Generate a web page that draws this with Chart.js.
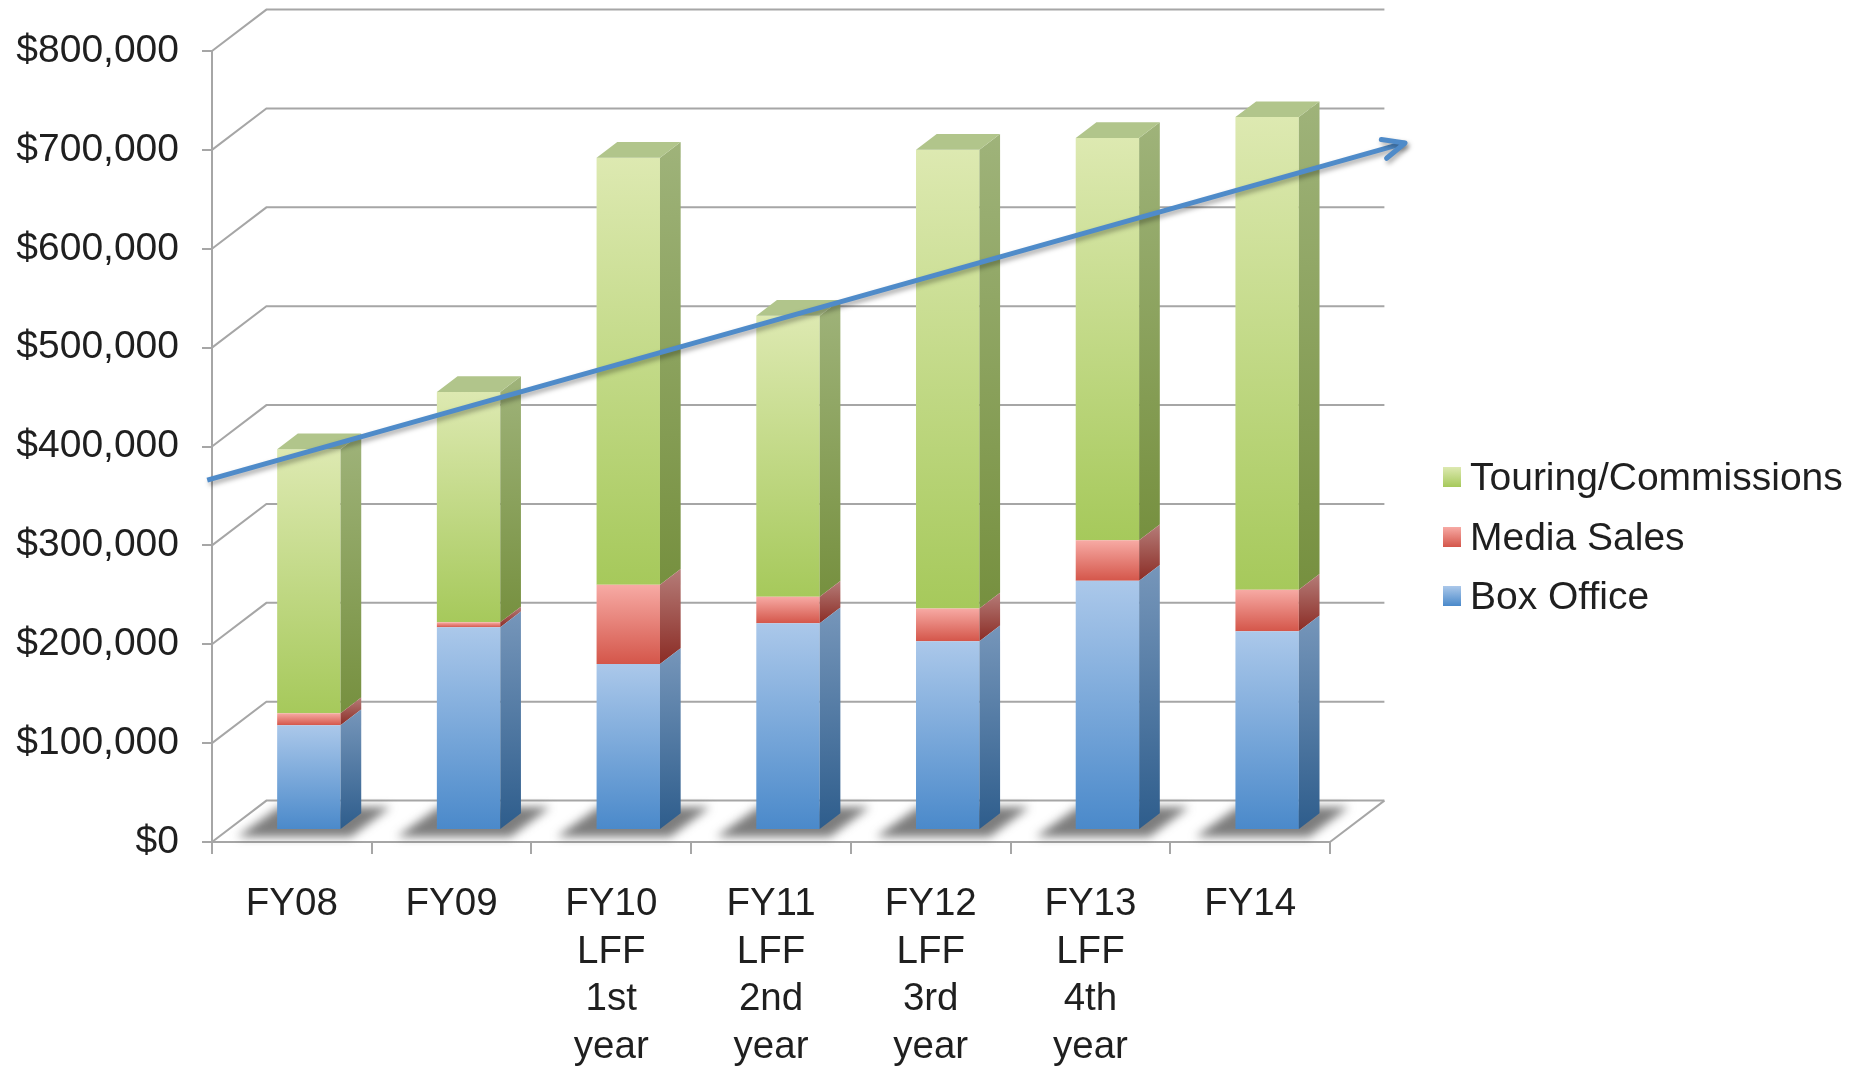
<!DOCTYPE html>
<html>
<head>
<meta charset="utf-8">
<script src="https://cdn.jsdelivr.net/npm/chart.js@4.4.1/dist/chart.umd.min.js"></script>
<style>
  html, body { margin: 0; padding: 0; background: #ffffff; }
  #wrap { position: relative; width: 1870px; height: 1066px; }
  #legend { position: absolute; left: 1443px; top: 0; width: 427px; height: 1066px;
            font-family: 'Liberation Sans', Arial, Helvetica, sans-serif; font-size: 39px; color: #1f1f1f; }
  #legend .li { position: absolute; left: 0; height: 40px; display: flex; align-items: center; white-space: nowrap; }
  #legend .sw { width: 18px; height: 20px; margin-right: 9px; flex: none; }
</style>
</head>
<body>
<div id="wrap"><canvas id="c"></canvas><div id="legend"></div></div>
<script>
// ---------------- data ----------------
const categories = [
  ['FY08'],
  ['FY09'],
  ['FY10', 'LFF', '1st', 'year'],
  ['FY11', 'LFF', '2nd', 'year'],
  ['FY12', 'LFF', '3rd', 'year'],
  ['FY13', 'LFF', '4th', 'year'],
  ['FY14']
];
const seriesNames = ['Box Office', 'Media Sales', 'Touring/Commissions'];
const boxOffice  = [106000, 205000, 168000, 209000, 191000, 252000, 201000];
const mediaSales = [ 12000,   5000,  80000,  27000,  33000,  41000,  42000];
const touring    = [267000, 233000, 432000, 284000, 464000, 407000, 478000];
// trend arrow: start / end in category-index units and dollar values
const trendX = [-0.53, 6.97];
const trendY = [366000, 707000];
const yMax = 800000;
const yStep = 100000;

// ---------------- styling ----------------
const FONT = "'Liberation Sans', Arial, Helvetica, sans-serif";
const TEXT = '#1f1f1f';
const GRID = '#a6a6a6';
const DEPTH = { x: 54.4, y: -41.4 };      // back-wall offset of the 3D box
const BAR_SHIFT = { x: 17, y: -12 };      // bars stand a little behind the front plane
const BAR_DEPTH = 0.38;                   // bar depth as fraction of the box depth
const TREND_COLOR = '#4f8bc9';

const seriesList = [boxOffice, mediaSales, touring];
const frontColors = [['#abc8ea', '#4a89ca'], ['#f7aaa4', '#d4564a'], ['#dde9b1', '#a6c95b']];
const sideColors  = [['#7696ba', '#2e5d8c'], ['#b57c78', '#8b2c25'], ['#9fb37a', '#76903f']];
const topColor = '#b1c58b';
const legendColors = ['#6b9fd8', '#e2736a', '#bcd67c'];

function frontFill(k) {
  return (c) => {
    if (c.type !== 'data' || !c.chart.chartArea) return legendColors[k];
    const y = c.chart.scales.y;
    const i = c.dataIndex;
    let s = 0;
    for (let j = 0; j < k; j++) s += seriesList[j][i];
    const top = y.getPixelForValue(s + seriesList[k][i]);
    const bot = y.getPixelForValue(s);
    const g = c.chart.ctx.createLinearGradient(0, top, 0, bot);
    g.addColorStop(0, frontColors[k][0]);
    g.addColorStop(1, frontColors[k][1]);
    return g;
  };
}

const threeD = {
  id: 'threeD',
  beforeDatasetsDraw(chart) {
    const { ctx, chartArea: a, scales: { y } } = chart;
    ctx.save();
    ctx.strokeStyle = GRID;
    ctx.lineWidth = 2;
    y.ticks.forEach(t => {
      const py = y.getPixelForValue(t.value);
      ctx.beginPath();
      ctx.moveTo(a.left, py);
      ctx.lineTo(a.left + DEPTH.x, py + DEPTH.y);
      ctx.lineTo(a.right + DEPTH.x, py + DEPTH.y);
      ctx.stroke();
    });
    const p0 = y.getPixelForValue(0);
    ctx.beginPath();
    ctx.moveTo(a.right, p0);
    ctx.lineTo(a.right + DEPTH.x, p0 + DEPTH.y);
    ctx.stroke();
    // floor shadows
    const meta = chart.getDatasetMeta(0);
    ctx.filter = 'blur(5px)';
    ctx.fillStyle = 'rgba(70,70,70,0.7)';
    meta.data.forEach(el => {
      const w = el.width;
      const bx = el.x - w / 2 + BAR_SHIFT.x;
      const by = el.base + BAR_SHIFT.y;
      ctx.beginPath();
      ctx.moveTo(bx - 40, by + 8);
      ctx.lineTo(bx + w + 10, by + 8);
      ctx.lineTo(bx + w + 50, by - 22);
      ctx.lineTo(bx + 2, by - 22);
      ctx.closePath();
      ctx.fill();
    });
    ctx.restore();
  },
  beforeDatasetDraw(chart, args) {
    const ctx = chart.ctx;
    const ds = chart.data.datasets[args.index];
    ctx.save();
    if (ds.type === 'line') {
      ctx.shadowColor = 'rgba(0,0,0,0.35)';
      ctx.shadowBlur = 5;
      ctx.shadowOffsetX = 2;
      ctx.shadowOffsetY = 3;
    } else {
      ctx.translate(BAR_SHIFT.x, BAR_SHIFT.y);
    }
  },
  afterDatasetDraw(chart, args) {
    const ctx = chart.ctx;
    const ds = chart.data.datasets[args.index];
    if (ds.type !== 'line') {
      const k = ds.seriesIndex;
      const dx = DEPTH.x * BAR_DEPTH, dy = DEPTH.y * BAR_DEPTH;
      args.meta.data.forEach(el => {
        const w = el.width;
        const l = el.x - w / 2, r = el.x + w / 2;
        const top = Math.min(el.y, el.base), bot = Math.max(el.y, el.base);
        if (bot - top < 0.01) return;
        const g = ctx.createLinearGradient(0, top + dy, 0, bot);
        g.addColorStop(0, sideColors[k][0]);
        g.addColorStop(1, sideColors[k][1]);
        ctx.fillStyle = g;
        ctx.beginPath();
        ctx.moveTo(r, top);
        ctx.lineTo(r + dx, top + dy);
        ctx.lineTo(r + dx, bot + dy);
        ctx.lineTo(r, bot);
        ctx.closePath();
        ctx.fill();
        if (k === seriesList.length - 1) {
          ctx.fillStyle = topColor;
          ctx.beginPath();
          ctx.moveTo(l, top);
          ctx.lineTo(l + dx, top + dy);
          ctx.lineTo(r + dx, top + dy);
          ctx.lineTo(r, top);
          ctx.closePath();
          ctx.fill();
        }
      });
    }
    ctx.restore();
  },
  afterDatasetsDraw(chart) {
    const ctx = chart.ctx;
    const meta = chart.getDatasetMeta(3);
    const p0 = meta.data[0], p1 = meta.data[meta.data.length - 1];
    const ang = Math.atan2(p1.y - p0.y, p1.x - p0.x);
    const L = 24, A = 24 * Math.PI / 180;
    ctx.save();
    ctx.shadowColor = 'rgba(0,0,0,0.35)';
    ctx.shadowBlur = 5;
    ctx.shadowOffsetX = 2;
    ctx.shadowOffsetY = 3;
    ctx.strokeStyle = TREND_COLOR;
    ctx.lineWidth = 5;
    ctx.lineCap = 'round';
    ctx.lineJoin = 'round';
    ctx.beginPath();
    ctx.moveTo(p1.x - L * Math.cos(ang - A), p1.y - L * Math.sin(ang - A));
    ctx.lineTo(p1.x, p1.y);
    ctx.lineTo(p1.x - L * Math.cos(ang + A), p1.y - L * Math.sin(ang + A));
    ctx.stroke();
    ctx.restore();
  }
};

const barDataset = (k) => ({
  type: 'bar',
  label: seriesNames[k],
  seriesIndex: k,
  data: seriesList[k],
  backgroundColor: frontFill(k),
  borderWidth: 0,
  grouped: false,
  categoryPercentage: 1.0,
  barPercentage: 0.397,
  xAxisID: 'x',
  yAxisID: 'y',
  stack: 'rev',
  clip: false
});

const chart = new Chart(document.getElementById('c'), {
  type: 'bar',
  data: {
    labels: categories,
    datasets: [
      barDataset(0),
      barDataset(1),
      barDataset(2),
      {
        type: 'line',
        label: 'Trend',
        data: trendX.map((x, i) => ({ x: x, y: trendY[i] })),
        xAxisID: 'xTrend',
        yAxisID: 'y',
        stack: 'trend',
        borderColor: TREND_COLOR,
        borderWidth: 5,
        pointRadius: 0,
        tension: 0,
        fill: false,
        clip: false,
        order: -1
      }
    ]
  },
  options: {
    responsive: true,
    maintainAspectRatio: false,
    animation: false,
    devicePixelRatio: 1,
    layout: { padding: { top: 51, left: 0, right: 540, bottom: 0 } },
    scales: {
      x: {
        type: 'category',
        stacked: true,
        offset: true,
        grid: { display: true, drawOnChartArea: false, offset: true, tickLength: 12, color: GRID, lineWidth: 2 },
        border: { display: true, color: GRID, width: 2 },
        ticks: {
          color: TEXT,
          padding: 27,
          maxRotation: 0,
          autoSkip: false,
          font: { family: FONT, size: 38.5, lineHeight: 1.235 }
        },
        afterFit: (s) => { s.height = 224; }
      },
      xTrend: {
        type: 'linear',
        display: false,
        offset: false,
        grid: { offset: false },
        min: -0.5,
        max: categories.length - 0.5
      },
      y: {
        type: 'linear',
        stacked: true,
        min: 0,
        max: yMax,
        grid: { display: true, drawOnChartArea: false, tickLength: 10, color: GRID, lineWidth: 2 },
        border: { display: true, color: GRID, width: 2 },
        ticks: {
          stepSize: yStep,
          color: TEXT,
          padding: 23,
          font: { family: FONT, size: 39 },
          callback: (v) => '$' + Number(v).toLocaleString('en-US')
        },
        afterFit: (s) => { s.width = 212; }
      }
    },
    plugins: {
      legend: {
        display: false,
        reverse: true,
        labels: { filter: (item) => item.datasetIndex !== 3 }
      },
      tooltip: { enabled: false }
    }
  },
  plugins: [threeD]
});

// HTML legend built from the chart's own legend items
(function buildLegend() {
  const opts = chart.options.plugins.legend;
  let items = Chart.defaults.plugins.legend.labels.generateLabels(chart).filter(opts.labels.filter);
  if (opts.reverse) items.reverse();
  const box = document.getElementById('legend');
  const rowTop = [457, 517, 576];
  items.forEach((it, n) => {
    const k = chart.data.datasets[it.datasetIndex].seriesIndex;
    const row = document.createElement('div');
    row.className = 'li';
    row.style.top = rowTop[n] + 'px';
    const sw = document.createElement('span');
    sw.className = 'sw';
    sw.style.background = 'linear-gradient(' + frontColors[k][0] + ', ' + frontColors[k][1] + ')';
    const tx = document.createElement('span');
    tx.textContent = it.text;
    row.appendChild(sw);
    row.appendChild(tx);
    box.appendChild(row);
  });
})();
</script>
</body>
</html>
